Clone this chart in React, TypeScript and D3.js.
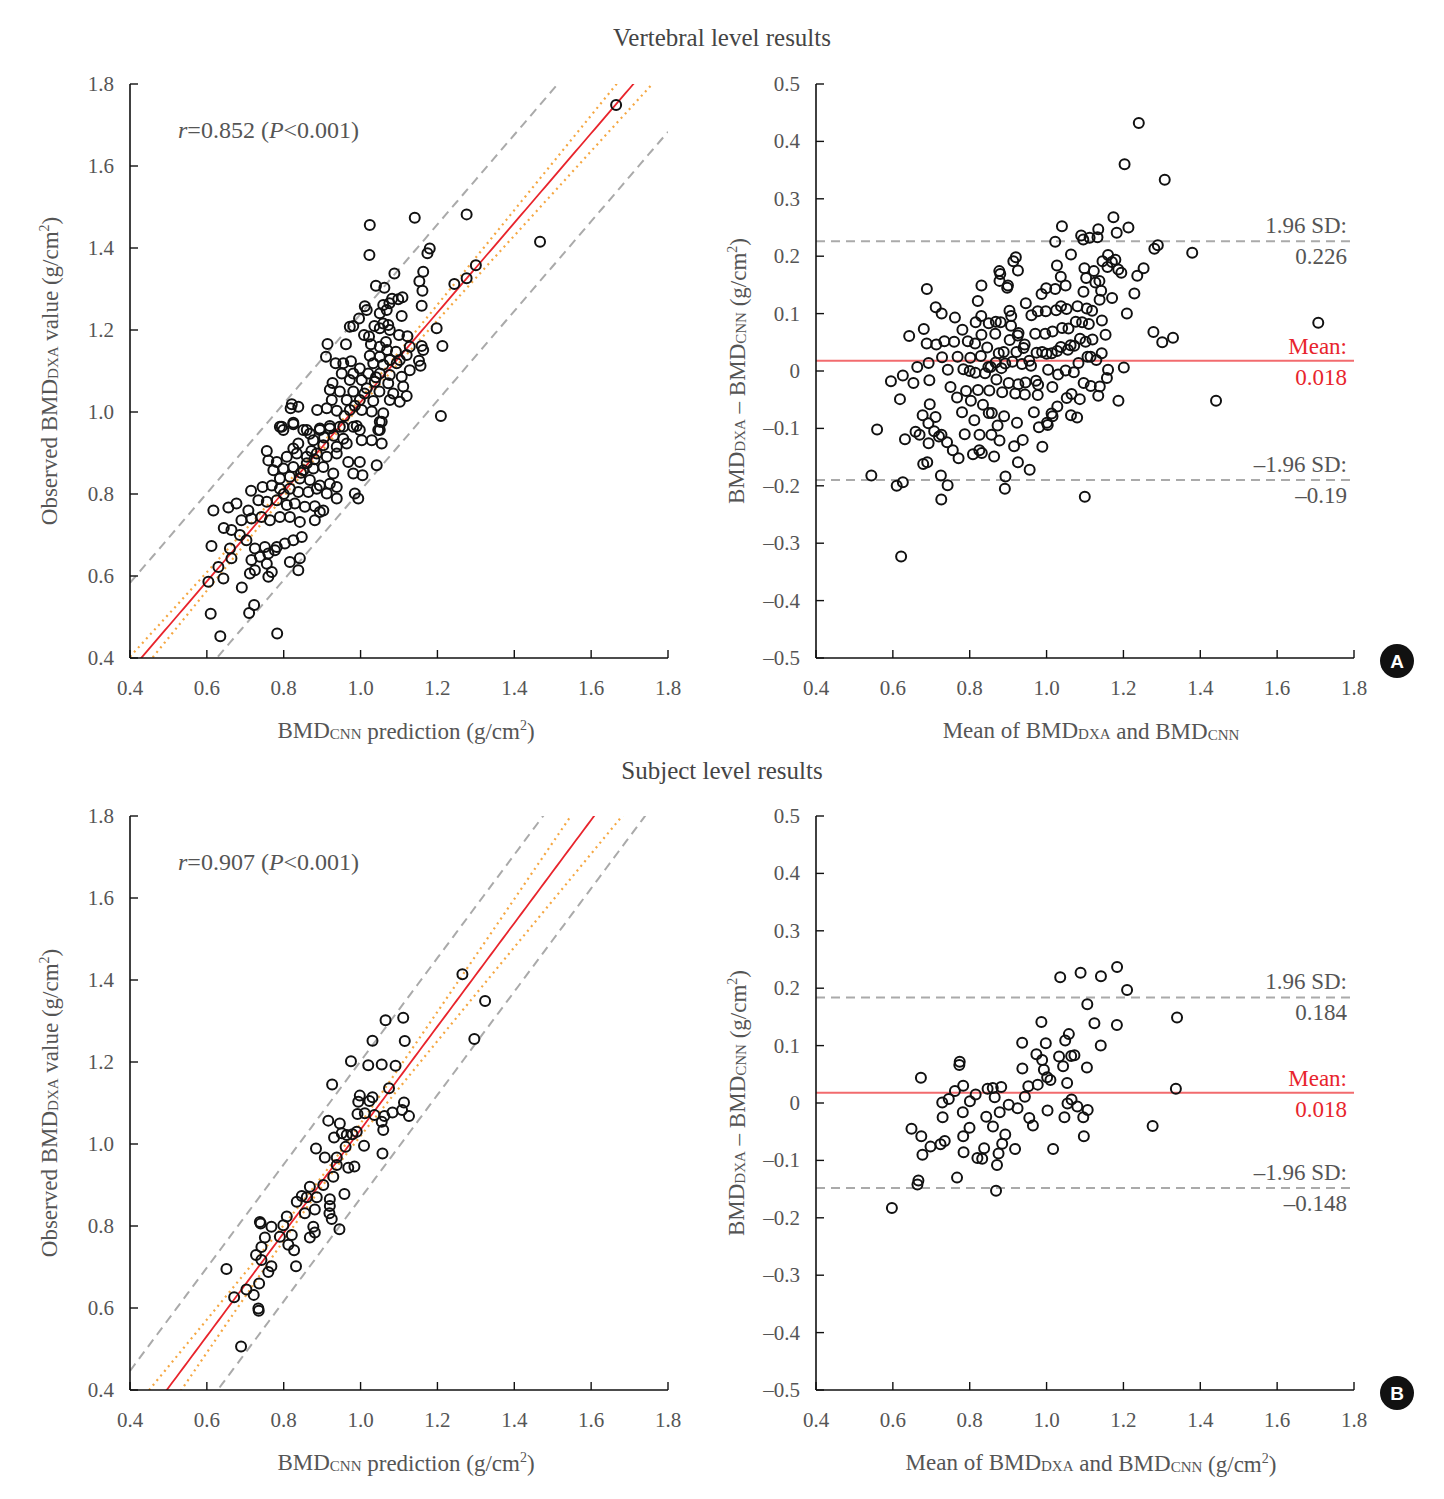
import * as d3 from "d3";

// [BMD_CNN prediction, observed BMD_DXA] per vertebra
const vertebralPairs: [number, number][] = [
  [1.665, 1.749], [1.467, 1.415], [1.300, 1.358],
  [1.024, 1.456], [1.141, 1.474], [1.276, 1.482], [1.023, 1.383], [1.180, 1.399], [1.174, 1.387],
  [1.088, 1.338], [1.163, 1.342], [1.153, 1.319], [1.161, 1.296], [1.040, 1.308], [1.062, 1.303],
  [1.244, 1.312], [1.276, 1.326], [1.159, 1.259], [1.109, 1.280], [1.098, 1.275], [1.082, 1.276],
  [1.075, 1.265], [1.059, 1.261], [1.011, 1.258], [1.016, 1.249], [1.068, 1.249], [1.050, 1.241],
  [1.107, 1.234], [0.996, 1.228], [0.972, 1.208], [0.981, 1.210], [1.036, 1.210], [1.059, 1.216],
  [1.072, 1.212], [1.050, 1.204], [1.076, 1.200], [1.198, 1.204], [1.100, 1.188], [1.122, 1.185],
  [1.009, 1.188], [1.022, 1.184], [1.027, 1.165], [1.066, 1.171], [1.069, 1.151], [1.050, 1.159],
  [0.914, 1.166], [0.962, 1.165], [1.159, 1.161], [1.163, 1.151], [1.213, 1.161], [1.128, 1.159],
  [1.092, 1.147], [0.910, 1.135], [1.024, 1.137], [1.050, 1.135], [1.120, 1.139], [1.152, 1.125],
  [1.156, 1.113], [0.935, 1.119], [0.955, 1.119], [0.975, 1.124], [0.998, 1.106], [1.033, 1.119],
  [1.059, 1.115], [1.076, 1.127], [1.094, 1.119], [1.102, 1.127], [0.951, 1.094], [0.981, 1.094],
  [1.020, 1.094], [1.050, 1.094], [1.076, 1.090], [1.128, 1.102], [1.107, 1.086], [0.927, 1.071],
  [0.972, 1.078], [1.003, 1.078], [1.037, 1.074], [1.072, 1.070], [1.111, 1.062], [0.920, 1.054],
  [0.946, 1.050], [0.981, 1.050], [1.016, 1.058], [1.049, 1.050], [1.085, 1.045], [1.120, 1.039],
  [0.925, 1.029], [0.964, 1.029], [0.998, 1.029], [1.033, 1.027], [1.076, 1.029], [1.102, 1.025],
  [0.821, 1.019], [0.838, 1.013], [0.818, 1.009], [0.887, 1.005], [0.912, 1.009], [0.938, 1.003],
  [0.972, 1.005], [1.003, 1.005], [1.029, 1.001], [1.059, 0.997], [1.209, 0.990], [0.790, 0.964],
  [0.825, 0.974], [0.860, 0.956], [0.894, 0.960], [0.920, 0.966], [0.955, 0.964], [0.990, 0.966],
  [1.055, 0.976], [1.046, 0.956],
  [0.795, 0.964], [0.825, 0.970], [0.799, 0.956], [0.851, 0.956], [0.868, 0.947], [0.894, 0.956],
  [0.920, 0.960], [0.946, 0.964], [0.981, 0.964], [0.998, 0.956], [1.050, 0.976], [1.050, 0.956],
  [1.029, 0.931], [1.003, 0.931], [1.055, 0.923], [0.838, 0.923], [0.825, 0.911], [0.877, 0.931],
  [0.903, 0.919], [0.938, 0.915], [0.964, 0.923], [0.756, 0.905], [0.760, 0.882], [0.782, 0.878],
  [0.808, 0.891], [0.834, 0.899], [0.860, 0.891], [0.886, 0.899], [0.912, 0.891], [0.938, 0.899],
  [0.968, 0.878], [0.998, 0.878], [1.042, 0.870], [0.773, 0.858], [0.799, 0.862], [0.825, 0.866],
  [0.851, 0.858], [0.877, 0.862], [0.903, 0.866], [0.929, 0.850], [0.981, 0.850], [1.005, 0.846],
  [0.790, 0.838], [0.816, 0.842], [0.842, 0.838], [0.868, 0.834], [0.894, 0.821], [0.920, 0.825],
  [0.938, 0.817], [0.715, 0.808], [0.745, 0.817], [0.769, 0.821], [0.790, 0.813], [0.816, 0.813],
  [0.838, 0.805], [0.864, 0.805], [0.886, 0.813], [0.912, 0.801], [0.938, 0.789], [0.985, 0.801],
  [0.994, 0.789], [0.617, 0.760], [0.656, 0.767], [0.677, 0.777], [0.708, 0.760], [0.734, 0.785],
  [0.756, 0.781], [0.782, 0.785], [0.808, 0.773], [0.829, 0.777], [0.855, 0.769], [0.881, 0.770],
  [0.903, 0.760], [0.644, 0.717], [0.664, 0.712], [0.690, 0.736], [0.716, 0.740], [0.742, 0.744],
  [0.764, 0.736], [0.790, 0.744], [0.816, 0.744], [0.842, 0.732], [0.881, 0.736], [0.894, 0.756],
  [0.612, 0.673], [0.660, 0.667], [0.686, 0.700], [0.703, 0.687], [0.725, 0.667], [0.751, 0.671],
  [0.777, 0.663], [0.803, 0.679], [0.825, 0.687], [0.847, 0.695], [0.664, 0.643], [0.716, 0.639],
  [0.738, 0.647], [0.760, 0.655], [0.782, 0.671], [0.816, 0.634], [0.842, 0.643], [0.838, 0.614],
  [0.630, 0.622], [0.643, 0.594], [0.712, 0.606], [0.725, 0.614], [0.756, 0.630], [0.760, 0.598],
  [0.769, 0.610], [0.604, 0.586], [0.691, 0.572], [0.723, 0.529], [0.710, 0.510], [0.610, 0.508],
  [0.635, 0.453], [0.783, 0.460],
  [0.872, 0.905], [0.905, 0.938], [0.958, 0.990], [0.985, 1.015], [1.010, 1.045], [1.040, 1.085],
  [0.860, 0.875], [0.930, 0.942], [0.955, 0.935], [0.880, 0.885], [0.800, 0.800], [0.845, 0.852],
];

// [BMD_CNN prediction, observed BMD_DXA] per subject
const subjectPairs: [number, number][] = [
  [1.265, 1.414], [1.324, 1.349], [1.296, 1.256], [1.065, 1.302], [1.111, 1.308], [1.031, 1.252],
  [1.115, 1.251], [0.975, 1.202], [1.020, 1.192], [1.055, 1.194], [1.091, 1.191], [0.926, 1.145],
  [1.074, 1.136], [0.998, 1.118], [0.994, 1.103], [1.023, 1.105], [1.031, 1.114], [1.113, 1.101],
  [0.992, 1.073], [1.011, 1.075], [1.036, 1.071], [1.062, 1.068], [1.083, 1.077], [1.108, 1.083],
  [1.126, 1.068], [0.916, 1.057], [0.946, 1.050], [1.055, 1.054], [1.059, 1.034], [0.931, 1.016],
  [0.951, 1.026], [0.964, 1.022], [0.979, 1.024], [0.990, 1.030], [1.009, 0.996], [0.884, 0.989],
  [0.907, 0.967], [0.938, 0.967], [0.961, 0.993], [1.057, 0.977], [0.968, 0.942], [0.984, 0.945],
  [0.938, 0.949], [0.929, 0.920], [0.903, 0.900], [0.868, 0.896], [0.834, 0.859], [0.847, 0.873],
  [0.860, 0.870], [0.886, 0.870], [0.920, 0.865], [0.920, 0.849], [0.881, 0.840], [0.855, 0.831],
  [0.919, 0.831], [0.925, 0.817], [0.958, 0.878], [0.808, 0.823], [0.738, 0.810], [0.740, 0.806],
  [0.768, 0.798], [0.799, 0.802], [0.877, 0.798], [0.881, 0.784], [0.868, 0.772], [0.945, 0.792],
  [0.821, 0.778], [0.751, 0.772], [0.742, 0.749], [0.790, 0.774], [0.812, 0.754], [0.827, 0.741],
  [0.728, 0.729], [0.742, 0.717], [0.768, 0.702], [0.760, 0.688], [0.832, 0.702], [0.651, 0.695],
  [0.703, 0.645], [0.671, 0.626], [0.722, 0.632], [0.736, 0.660], [0.734, 0.599], [0.735, 0.593],
  [0.689, 0.506],
];

// regression fit, band half-widths and Bland-Altman limits as printed in the figure
const vertebralFit = { slope: 1.093, intercept: -0.069, pi: 0.215, xbar: 0.93, ciA: 0.008, ciB: 0.064 };
const subjectFit = { slope: 1.259, intercept: -0.224, pi: 0.167, xbar: 0.92, ciA: 0.012, ciB: 0.12 };
const vertebralLimits = { r: "0.852", mean: 0.018, upper: 0.226, lower: -0.19 };
const subjectLimits = { r: "0.907", mean: 0.018, upper: 0.184, lower: -0.148 };

const FONT = "'Liberation Serif', 'Times New Roman', serif";
const TEXT = "#555";
const LEFT_X = [130, 668];
const RIGHT_X = [816, 1354];
const TITLE_SIZE = 23;
const SUB_SIZE = 15;

const fmtLeft = d3.format(".1f");
const fmtDiff = (d: number) => (Math.abs(d) < 1e-9 ? "0" : d < 0 ? "\u2013" + d3.format(".1f")(-d) : d3.format(".1f")(d));
const fmtLimit = (d: number) => (d < 0 ? "\u2013" + String(-d) : String(d));

function Axes({ x, y, yFmt, yCount }: any) {
  const [x0, x1] = x.range();
  const [y0, y1] = y.range();
  return (
    <g fontFamily={FONT} fill={TEXT} fontSize={21}>
      <line x1={x0} x2={x1} y1={y0} y2={y0} stroke="#111" strokeWidth={1.6} />
      <line x1={x0} x2={x0} y1={y0} y2={y1} stroke="#111" strokeWidth={1.6} />
      {x.ticks(7).map((t: number) => (
        <g key={"x" + t}>
          <line x1={x(t)} x2={x(t)} y1={y0} y2={y0 - 8} stroke="#111" strokeWidth={1.4} />
          <text x={x(t)} y={y0 + 37} textAnchor="middle">{fmtLeft(t)}</text>
        </g>
      ))}
      {y.ticks(yCount).map((t: number) => (
        <g key={"y" + t}>
          <line x1={x0} x2={x0 + 8} y1={y(t)} y2={y(t)} stroke="#111" strokeWidth={1.4} />
          <text x={x0 - 16} y={y(t) + 7} textAnchor="end">{yFmt(t)}</text>
        </g>
      ))}
    </g>
  );
}

function Sub({ main, sub }: { main: string; sub: string }) {
  return (
    <>
      <tspan>{main}</tspan>
      <tspan fontSize={SUB_SIZE} dy={1}>{sub}</tspan>
      <tspan dy={-1}></tspan>
    </>
  );
}

function Units() {
  return (
    <>
      <tspan> (g/cm</tspan>
      <tspan fontSize={14} dy={-9}>2</tspan>
      <tspan dy={9}>)</tspan>
    </>
  );
}

function ScatterPanel({ pairs, fit, limits, top, id }: any) {
  const x = d3.scaleLinear().domain([0.4, 1.8]).range(LEFT_X);
  const y = d3.scaleLinear().domain([0.4, 1.8]).range([top + 574, top]);
  const xs = d3.range(0.4, 1.8001, 0.01);
  const yHat = (v: number) => fit.intercept + fit.slope * v;
  const ci = (v: number) => Math.sqrt(fit.ciA ** 2 + (fit.ciB * (v - fit.xbar)) ** 2);
  const line = (f: (v: number) => number) => d3.line<number>().x((v) => x(v)).y((v) => y(f(v)))(xs) || "";
  return (
    <g>
      <clipPath id={id}>
        <rect x={LEFT_X[0]} y={top} width={LEFT_X[1] - LEFT_X[0]} height={574} />
      </clipPath>
      <g clipPath={`url(#${id})`} fill="none">
        <path d={line((v) => yHat(v) + fit.pi)} stroke="#aaa" strokeWidth={2} strokeDasharray="9,6" />
        <path d={line((v) => yHat(v) - fit.pi)} stroke="#aaa" strokeWidth={2} strokeDasharray="9,6" />
        <path d={line((v) => yHat(v) + ci(v))} stroke="#f5a742" strokeWidth={2.2} strokeDasharray="2,4" />
        <path d={line((v) => yHat(v) - ci(v))} stroke="#f5a742" strokeWidth={2.2} strokeDasharray="2,4" />
        <path d={line(yHat)} stroke="#e8242c" strokeWidth={1.8} />
      </g>
      <g fill="none" stroke="#111" strokeWidth={2}>
        {pairs.map((p: [number, number], i: number) => (
          <circle key={i} cx={x(p[0])} cy={y(p[1])} r={5} />
        ))}
      </g>
      <Axes x={x} y={y} yFmt={fmtLeft} yCount={7} />
      <text x={178} y={top + 54} fontFamily={FONT} fontSize={24} fill={TEXT}>
        <tspan fontStyle="italic">r</tspan>
        <tspan>=</tspan>
        <tspan>{limits.r} (</tspan>
        <tspan fontStyle="italic">P</tspan>
        <tspan>{"<0.001)"}</tspan>
      </text>
      <text x={406} y={top + 654} textAnchor="middle" fontFamily={FONT} fontSize={TITLE_SIZE} fill={TEXT}>
        <Sub main="BMD" sub="CNN" />
        <tspan> prediction</tspan>
        <Units />
      </text>
      <text transform={`translate(57,${top + 287}) rotate(-90)`} textAnchor="middle" fontFamily={FONT} fontSize={TITLE_SIZE} fill={TEXT}>
        <tspan>Observed </tspan>
        <Sub main="BMD" sub="DXA" />
        <tspan> value</tspan>
        <Units />
      </text>
    </g>
  );
}

function BlandAltmanPanel({ pairs, limits, top, units, badge }: any) {
  const x = d3.scaleLinear().domain([0.4, 1.8]).range(RIGHT_X);
  const y = d3.scaleLinear().domain([-0.5, 0.5]).range([top + 574, top]);
  const pts = pairs.map((p: [number, number]) => [(p[0] + p[1]) / 2, p[1] - p[0]]);
  const [x0, x1] = RIGHT_X;
  const labelX = 1347;
  return (
    <g>
      <line x1={x0} x2={x1} y1={y(limits.upper)} y2={y(limits.upper)} stroke="#aaa" strokeWidth={2} strokeDasharray="9,6" />
      <line x1={x0} x2={x1} y1={y(limits.lower)} y2={y(limits.lower)} stroke="#aaa" strokeWidth={2} strokeDasharray="9,6" />
      <line x1={x0} x2={x1} y1={y(limits.mean)} y2={y(limits.mean)} stroke="#f26b6e" strokeWidth={2} />
      <g fill="none" stroke="#111" strokeWidth={2}>
        {pts.map((p: number[], i: number) => (
          <circle key={i} cx={x(p[0])} cy={y(p[1])} r={5} />
        ))}
      </g>
      <Axes x={x} y={y} yFmt={fmtDiff} yCount={10} />
      <g fontFamily={FONT} fontSize={23} textAnchor="end">
        <text x={labelX} y={y(limits.upper) - 8} fill={TEXT}>1.96 SD:</text>
        <text x={labelX} y={y(limits.upper) + 23} fill={TEXT}>{fmtLimit(limits.upper)}</text>
        <text x={labelX} y={y(limits.mean) - 7} fill="#e8242c">Mean:</text>
        <text x={labelX} y={y(limits.mean) + 24} fill="#e8242c">{fmtLimit(limits.mean)}</text>
        <text x={labelX} y={y(limits.lower) - 8} fill={TEXT}>{"\u20131.96 SD:"}</text>
        <text x={labelX} y={y(limits.lower) + 23} fill={TEXT}>{fmtLimit(limits.lower)}</text>
      </g>
      <text x={1091} y={top + 654} textAnchor="middle" fontFamily={FONT} fontSize={TITLE_SIZE} fill={TEXT}>
        <tspan>Mean of </tspan>
        <Sub main="BMD" sub="DXA" />
        <tspan> and </tspan>
        <Sub main="BMD" sub="CNN" />
        {units ? <Units /> : null}
      </text>
      <text transform={`translate(744,${top + 287}) rotate(-90)`} textAnchor="middle" fontFamily={FONT} fontSize={TITLE_SIZE} fill={TEXT}>
        <Sub main="BMD" sub="DXA" />
        <tspan>{" \u2013 "}</tspan>
        <Sub main="BMD" sub="CNN" />
        <Units />
      </text>
      <circle cx={1397} cy={top + 577} r={17} fill="#111" />
      <text x={1397} y={top + 584} textAnchor="middle" fontFamily="'Liberation Sans', Arial, sans-serif" fontWeight="bold" fontSize={19} fill="#fff">{badge}</text>
    </g>
  );
}

export default function App() {
  return (
    <svg width={1444} height={1499} style={{ position: "absolute", left: 0, top: 0, background: "#fff" }}>
      <rect width={1444} height={1499} fill="#fff" />
      <text x={722} y={46} textAnchor="middle" fontFamily={FONT} fontSize={25} fill="#444">Vertebral level results</text>
      <text x={722} y={779} textAnchor="middle" fontFamily={FONT} fontSize={25} fill="#444">Subject level results</text>
      <ScatterPanel pairs={vertebralPairs} fit={vertebralFit} limits={vertebralLimits} top={84} id="clipTop" />
      <BlandAltmanPanel pairs={vertebralPairs} limits={vertebralLimits} top={84} units={false} badge="A" />
      <ScatterPanel pairs={subjectPairs} fit={subjectFit} limits={subjectLimits} top={816} id="clipBottom" />
      <BlandAltmanPanel pairs={subjectPairs} limits={subjectLimits} top={816} units={true} badge="B" />
    </svg>
  );
}
